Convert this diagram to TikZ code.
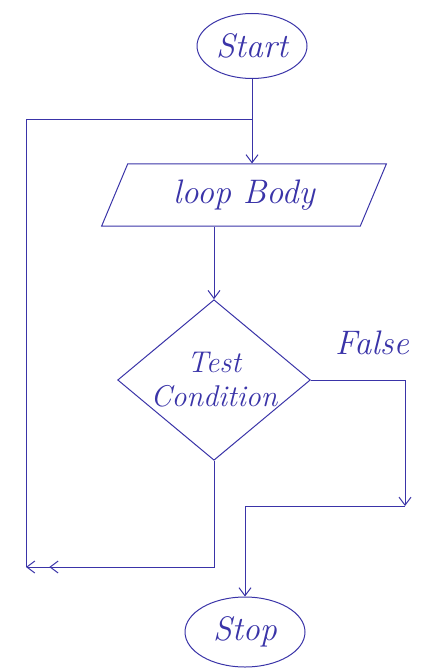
\documentclass[tikz,border=0pt]{standalone}
\usepackage{tikz}
\usetikzlibrary{shapes.geometric, arrows.meta}
\definecolor{ink}{RGB}{58,52,168}
\newcommand{\hand}{\fontsize{34}{38}\selectfont\itshape}
\newcommand{\handsm}{\fontsize{30}{34}\selectfont\itshape}

\begin{document}
\begin{tikzpicture}[x=1pt, y=-1pt, line width=1pt, ink, >={Straight Barb[length=8pt, width=12pt]}]

\useasboundingbox (0,0) rectangle (430,671);

\node[ellipse, draw, minimum width=110pt, minimum height=65pt, inner sep=0pt, font=\hand] (start) at (252,46) {Start};
\node[trapezium, trapezium left angle=66, trapezium right angle=114, trapezium stretches=true, draw, minimum width=285pt, minimum height=62pt, font=\hand] (body) at (244,195) {loop Body};
\node[diamond, draw, aspect=1.2, minimum width=185pt, minimum height=152pt, inner sep=0pt, align=center, font=\handsm] (cnd) at (214,380) {Test\\Condition};
\node[ellipse, draw, minimum width=120pt, minimum height=70pt, inner sep=0pt, font=\hand] (stop) at (245,632) {Stop};
\node[font=\hand] (false) at (372,343) {False};

\coordinate (jn) at (252,120);
\coordinate (lt) at (26,120);
\coordinate (lb) at (26,567);
\coordinate (fr) at (405,380);
\coordinate (fa) at (405,506);
\coordinate (fb) at (245,506);

\draw (start.south) -- (jn);
\draw[->] (jn) -- (jn |- body.north);
\draw[->] (cnd.north |- body.south) -- (cnd.north);
\draw[-{Straight Barb[length=8pt, width=12pt, sep=14pt] Straight Barb[length=8pt, width=12pt]}] (cnd.south) -- (cnd.south |- lb) -- (lb);
\draw (lb) -- (lt) -- (jn);
\draw[->] (cnd.east) -- (fr) -- (fa);
\draw[->] (fa) -- (fb) -- (stop.north);
\end{tikzpicture}
\end{document}
